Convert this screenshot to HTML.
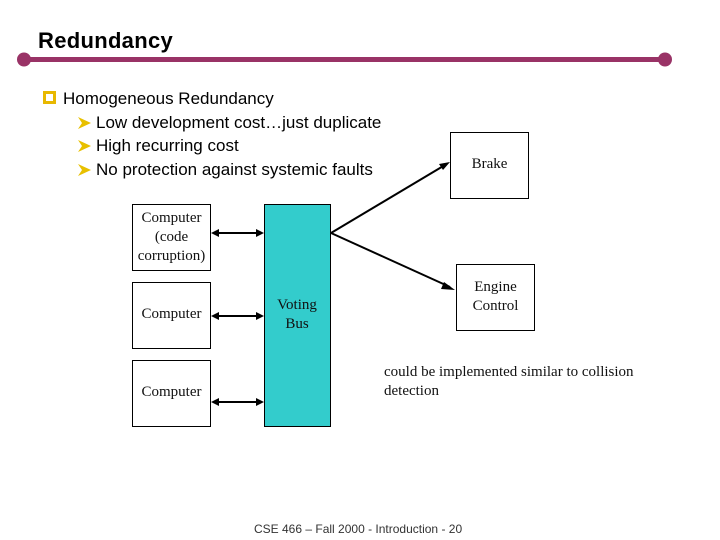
<!DOCTYPE html>
<html><head><meta charset="utf-8"><style>
body{margin:0;width:720px;height:540px;background:#fff;position:relative;overflow:hidden;font-family:"Liberation Sans",sans-serif}
.t{position:absolute;white-space:nowrap}
.s{font-family:"Liberation Serif",serif;font-size:15px;color:#111}
</style></head><body>
<div class="t" style="left:38px;top:28px;font-size:22px;font-weight:bold;letter-spacing:0.3px">Redundancy</div>
<svg width="720" height="540" style="position:absolute;left:0;top:0">
<line x1="24" y1="59.5" x2="665" y2="59.5" stroke="#993366" stroke-width="5"/>
<circle cx="24" cy="59.5" r="7" fill="#993366"/>
<circle cx="665" cy="59.5" r="7" fill="#993366"/>
<rect x="44.5" y="92.5" width="10" height="10" fill="#fff" stroke="#e8b800" stroke-width="3"/>
<g fill="#e8c000">
<polygon points="78,117 91,123 78,129 82,123"/>
<polygon points="78,140 91,146 78,152 82,146"/>
<polygon points="78,164 91,170 78,176 82,170"/>
</g>
<g fill="none" stroke="#000" stroke-width="1">
<rect x="132.5" y="204.5" width="78" height="66"/>
<rect x="132.5" y="282.5" width="78" height="66"/>
<rect x="132.5" y="360.5" width="78" height="66"/>
<rect x="264.5" y="204.5" width="66" height="222" fill="#33cccc"/>
<rect x="450.5" y="132.5" width="78" height="66"/>
<rect x="456.5" y="264.5" width="78" height="66"/>
</g>
<g stroke="#000" stroke-width="2">
<line x1="216" y1="233" x2="259" y2="233"/>
<line x1="216" y1="316" x2="259" y2="316"/>
<line x1="216" y1="402" x2="259" y2="402"/>
<line x1="331" y1="233" x2="445" y2="165"/>
<line x1="331" y1="233" x2="450" y2="287"/>
</g>
<g fill="#000">
<polygon points="211,233 219,229 219,237"/><polygon points="264,233 256,229 256,237"/>
<polygon points="211,316 219,312 219,320"/><polygon points="264,316 256,312 256,320"/>
<polygon points="211,402 219,398 219,406"/><polygon points="264,402 256,398 256,406"/>
<polygon points="450,162 439,164 443,170"/>
<polygon points="455,290 444,282 441,289"/>
</g>
</svg>
<div class="t" style="left:63px;top:89px;font-size:17px">Homogeneous Redundancy</div>
<div class="t" style="left:96px;top:113px;font-size:17px">Low development cost…just duplicate</div>
<div class="t" style="left:96px;top:136px;font-size:17px">High recurring cost</div>
<div class="t" style="left:96px;top:160px;font-size:17px">No protection against systemic faults</div>
<div class="t s" style="left:132px;top:209px;width:79px;text-align:center;line-height:19px">Computer<br>(code<br>corruption)</div>
<div class="t s" style="left:132px;top:306px;width:79px;text-align:center">Computer</div>
<div class="t s" style="left:132px;top:384px;width:79px;text-align:center">Computer</div>
<div class="t s" style="left:264px;top:296px;width:66px;text-align:center;line-height:19px">Voting<br>Bus</div>
<div class="t s" style="left:450px;top:156px;width:79px;text-align:center">Brake</div>
<div class="t s" style="left:456px;top:278px;width:79px;text-align:center;line-height:19px">Engine<br>Control</div>
<div class="t s" style="left:384px;top:363px;line-height:19px">could be implemented similar to collision<br>detection</div>
<div class="t" style="left:254px;top:522px;font-size:12px;color:#333">CSE 466 – Fall 2000 - Introduction - 20</div>
</body></html>
